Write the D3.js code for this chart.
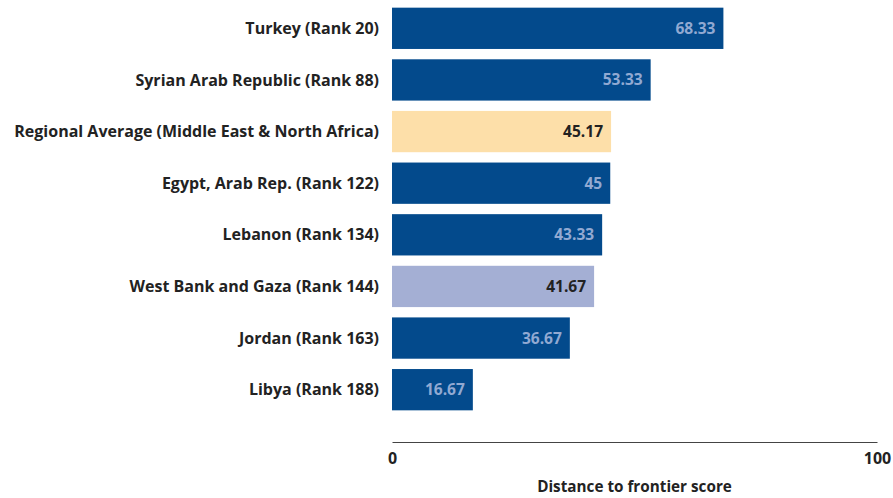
<!DOCTYPE html>
<html><head><meta charset="utf-8">
<script src="https://cdn.jsdelivr.net/npm/d3@7"></script>
<style>body{margin:0;background:#fff}</style>
</head><body>
<svg id="c" width="893" height="498"></svg>
<script>
const categories = ["Turkey (Rank 20)","Syrian Arab Republic (Rank 88)","Regional Average (Middle East & North Africa)","Egypt, Arab Rep. (Rank 122)","Lebanon (Rank 134)","West Bank and Gaza (Rank 144)","Jordan (Rank 163)","Libya (Rank 188)"];
const values = [68.33,53.33,45.17,45,43.33,41.67,36.67,16.67];
const valueLabels = ["68.33","53.33","45.17","45","43.33","41.67","36.67","16.67"];
const kinds = ["economy","economy","average","economy","economy","focus","economy","economy"];
const xTicks = [0,100];
const axisTitle = "Distance to frontier score";

const colors = {economy:"#034a8c", average:"#fddfa9", focus:"#a4afd4"};
const textColors = {economy:"#91a9d2", average:"#222", focus:"#222"};

const svg = d3.select("#c");
const font = "'Open Sans', sans-serif";
const x = d3.scaleLinear().domain([0,100]).range([392,877]);
const y = d3.scaleBand().domain(categories).range([2.5,415.5]).paddingInner(0.2).paddingOuter(0.1);

const data = categories.map((c,i)=>({c,v:values[i],l:valueLabels[i],k:kinds[i]}));

// fit font sizes to the reference's measured text widths
function fitSize(str, targetW, base){
  const t = svg.append("text").attr("font-family",font).attr("font-weight","bold").attr("font-size",base).text(str);
  const w = t.node().getComputedTextLength(); t.remove();
  return base*targetW/w;
}
const catSize = fitSize("Regional Average (Middle East & North Africa)", 365, 13);
const valSize = fitSize("68.33", 40, 12);
const titleSize = fitSize(axisTitle, 195, 13);

svg.selectAll("rect.bar").data(data).join("rect").attr("class","bar")
  .attr("x",x(0)).attr("y",d=>y(d.c)).attr("width",d=>x(d.v)-x(0)).attr("height",y.bandwidth())
  .attr("fill",d=>colors[d.k]);

svg.selectAll("text.val").data(data).join("text").attr("class","val")
  .attr("x",d=>x(d.v)-8).attr("y",d=>y(d.c)+y.bandwidth()/2).attr("dy","0.35em")
  .attr("text-anchor","end").attr("font-family",font).attr("font-weight","bold").attr("font-size",valSize)
  .attr("fill",d=>textColors[d.k]).text(d=>d.l);

svg.selectAll("text.cat").data(data).join("text").attr("class","cat")
  .attr("x",379).attr("y",d=>y(d.c)+y.bandwidth()/2).attr("dy","0.35em")
  .attr("text-anchor","end").attr("font-family",font).attr("font-weight","bold").attr("font-size",catSize)
  .attr("fill","#222").text(d=>d.c);

const ax = svg.append("g").attr("transform","translate(0,442)")
  .call(d3.axisBottom(x).tickValues(xTicks).tickSize(0).tickPadding(11));
ax.select(".domain").attr("stroke","#444").attr("stroke-width",1.2);
ax.selectAll("text").attr("font-family",font).attr("font-weight","bold").attr("font-size",catSize).attr("fill","#222");

svg.append("text").attr("x",(x(0)+x(100))/2).attr("y",487).attr("dy","0.35em")
  .attr("text-anchor","middle").attr("font-family",font).attr("font-weight","bold").attr("font-size",titleSize)
  .attr("fill","#222").text(axisTitle);
</script>
</body></html>
